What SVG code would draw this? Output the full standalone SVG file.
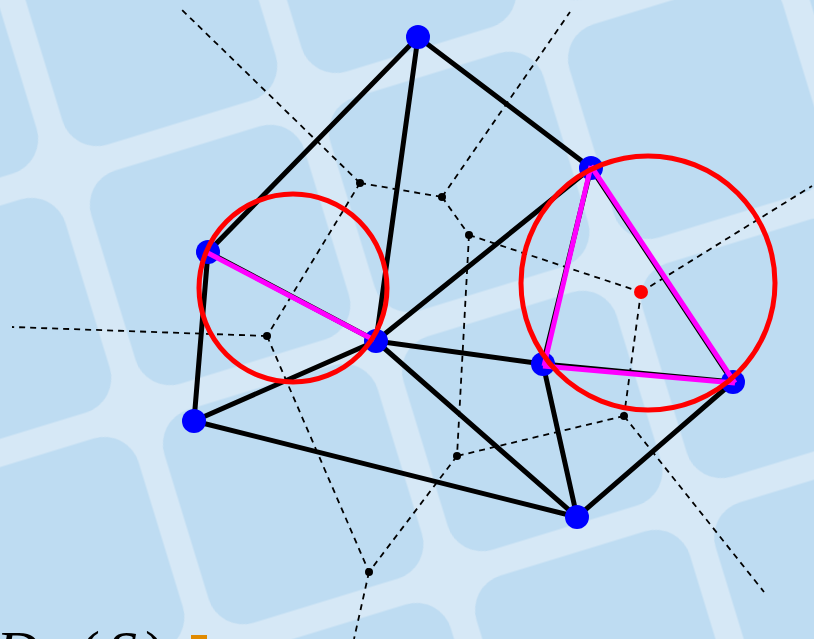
<svg xmlns="http://www.w3.org/2000/svg" width="814" height="639" viewBox="0 0 814 639">
  <style>
    .vor { stroke: #000; stroke-width: 1.8; stroke-dasharray: 6 5; fill: none; }
    .edge { stroke: #000; stroke-width: 5; fill: none; stroke-linecap: round; }
    .mag { stroke: #ff00ff; stroke-width: 5; fill: none; stroke-linecap: butt; }
    .circ { stroke: #ff0000; stroke-width: 5; fill: none; }
    .site { fill: #0000ff; }
    .vv { fill: #000; }
    .lbl { font-family: "Liberation Serif", "DejaVu Serif", serif; font-size: 60px; fill: #000; }
  </style>
  <defs>
    <pattern id="tiles" width="250" height="250" patternUnits="userSpaceOnUse" patternTransform="translate(64,172) rotate(-17)">
      <rect x="0" y="0" width="250" height="250" fill="#d6e8f6"/>
      <rect x="13.5" y="13.5" width="223" height="223" rx="36" fill="#bedcf2"/>
    </pattern>
  </defs>
  <rect id="background" x="0" y="0" width="814" height="639" fill="url(#tiles)"/>

  <g id="voronoi-edges">
    <line class="vor" x1="360" y1="183" x2="180" y2="8"/>
    <line class="vor" x1="360" y1="183" x2="442" y2="197"/>
    <line class="vor" x1="360" y1="183" x2="267" y2="336"/>
    <line class="vor" x1="442" y1="197" x2="570" y2="12"/>
    <line class="vor" x1="442" y1="197" x2="469" y2="235"/>
    <line class="vor" x1="469" y1="235" x2="641" y2="292"/>
    <line class="vor" x1="469" y1="235" x2="457" y2="456"/>
    <line class="vor" x1="641" y1="292" x2="812" y2="186"/>
    <line class="vor" x1="641" y1="292" x2="624" y2="416"/>
    <line class="vor" x1="624" y1="416" x2="457" y2="456"/>
    <line class="vor" x1="624" y1="416" x2="764" y2="592"/>
    <line class="vor" x1="457" y1="456" x2="369" y2="572"/>
    <line class="vor" x1="267" y1="336" x2="369" y2="572"/>
    <line class="vor" x1="267" y1="336" x2="12" y2="327"/>
    <line class="vor" x1="369" y1="572" x2="354" y2="639"/>
  </g>

  <g id="delaunay-edges">
    <line class="edge" x1="418" y1="37" x2="208" y2="252"/>
    <line class="edge" x1="418" y1="37" x2="376" y2="341"/>
    <line class="edge" x1="418" y1="37" x2="591" y2="168"/>
    <line class="edge" x1="591" y1="168" x2="376" y2="341"/>
    <line class="edge" x1="208" y1="252" x2="376" y2="341"/>
    <line class="edge" x1="208" y1="252" x2="194" y2="421"/>
    <line class="edge" x1="194" y1="421" x2="376" y2="341"/>
    <line class="edge" x1="194" y1="421" x2="577" y2="517"/>
    <line class="edge" x1="376" y1="341" x2="543" y2="364"/>
    <line class="edge" x1="376" y1="341" x2="577" y2="517"/>
    <line class="edge" x1="543" y1="364" x2="577" y2="517"/>
    <line class="edge" x1="577" y1="517" x2="733" y2="382"/>
    <line class="edge" x1="591" y1="168" x2="543" y2="364"/>
    <line class="edge" x1="591" y1="168" x2="733" y2="382"/>
    <line class="edge" x1="543" y1="364" x2="733" y2="382"/>
  </g>

  <g id="voronoi-vertices">
    <circle class="vv" cx="360" cy="183" r="4"/>
    <circle class="vv" cx="442" cy="197" r="4"/>
    <circle class="vv" cx="469" cy="235" r="4"/>
    <circle class="vv" cx="267" cy="336" r="4"/>
    <circle class="vv" cx="624" cy="416" r="4"/>
    <circle class="vv" cx="457" cy="456" r="4"/>
    <circle class="vv" cx="369" cy="572" r="4"/>
  </g>

  <g id="site-a"><circle class="site" cx="418" cy="37" r="12"/></g>
  <g id="site-b"><circle class="site" cx="591" cy="168" r="12"/></g>
  <g id="site-c"><circle class="site" cx="208" cy="252" r="12"/></g>
  <g id="site-d"><circle class="site" cx="376" cy="341" r="12"/></g>
  <g id="site-e"><circle class="site" cx="543" cy="364" r="12"/></g>
  <g id="site-f"><circle class="site" cx="733" cy="382" r="12"/></g>
  <g id="site-g"><circle class="site" cx="194" cy="421" r="12"/></g>
  <g id="site-h"><circle class="site" cx="577" cy="517" r="12"/></g>

  <g id="highlight-edges">
    <line class="mag" x1="206" y1="252" x2="374" y2="340"/>
    <line class="mag" x1="591" y1="166" x2="544" y2="366"/>
    <line class="mag" x1="591" y1="166" x2="735" y2="383"/>
    <line class="mag" x1="543" y1="366" x2="735" y2="383"/>
  </g>

  <g id="empty-circle-left"><circle class="circ" cx="293" cy="288" r="94"/></g>
  <g id="empty-circle-right"><circle class="circ" cx="648" cy="283" r="127"/></g>
  <g id="circumcenter"><circle cx="641" cy="292" r="7" fill="#ff0000"/></g>

  <g id="label">
    <text class="lbl" x="-4" y="672" font-style="italic">D</text>
    <text class="lbl" x="80" y="672">(</text>
    <text class="lbl" x="107" y="672" font-style="italic">S</text>
    <text class="lbl" x="145" y="672">)</text>
    <rect x="191" y="635" width="16" height="4" fill="#e08a00"/>
  </g>
</svg>
